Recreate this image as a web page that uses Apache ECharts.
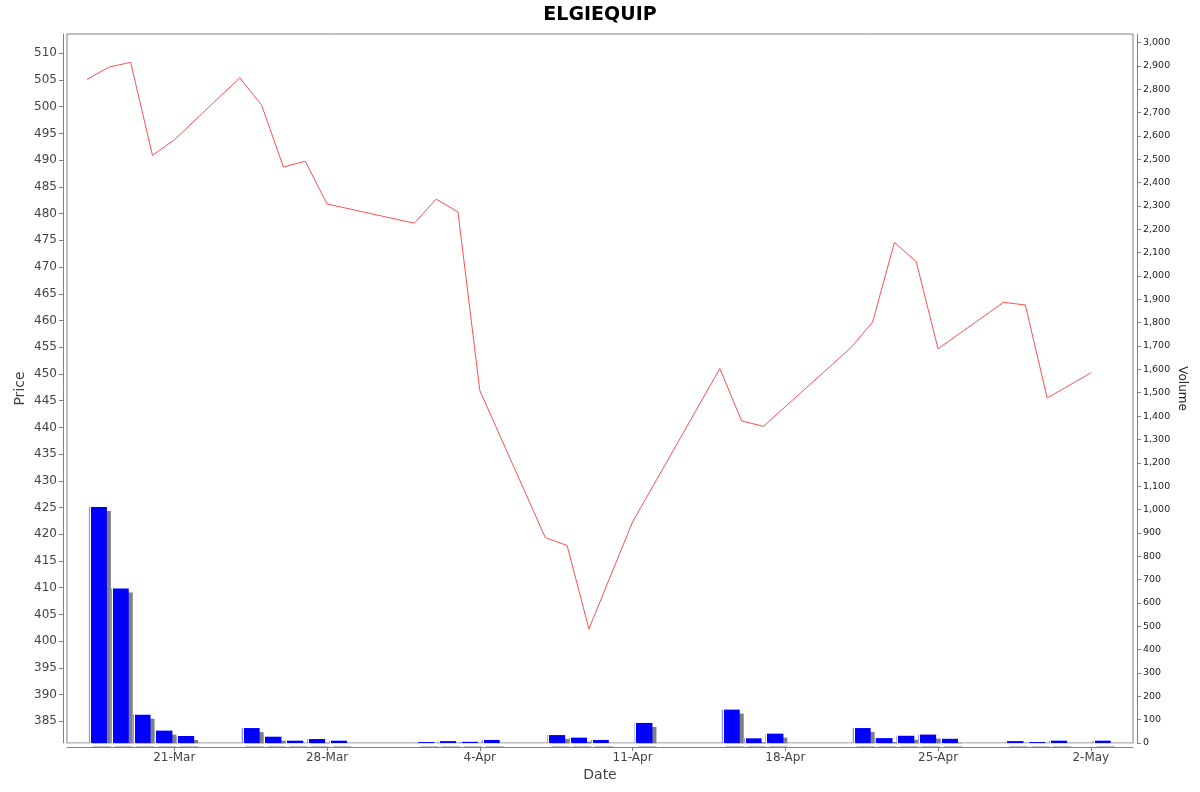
<!DOCTYPE html>
<html>
<head>
<meta charset="utf-8">
<script src="https://cdn.jsdelivr.net/npm/echarts@6/dist/echarts.min.js"></script>
<style>
html,body{margin:0;padding:0;background:#fff;}
#chart{width:1200px;height:792px;}
</style>
</head>
<body>
<div id="chart"></div>
<script>
const chartTitle = 'ELGIEQUIP';
const dates = ['2025-03-17','2025-03-18','2025-03-19','2025-03-20','2025-03-21',
  '2025-03-24','2025-03-25','2025-03-26','2025-03-27','2025-03-28',
  '2025-04-01','2025-04-02','2025-04-03','2025-04-04',
  '2025-04-07','2025-04-08','2025-04-09','2025-04-11',
  '2025-04-15','2025-04-16','2025-04-17',
  '2025-04-21','2025-04-22','2025-04-23','2025-04-24','2025-04-25',
  '2025-04-28','2025-04-29','2025-04-30','2025-05-02'];
const prices = [505.1,507.4,508.3,490.9,493.8,
  505.4,500.3,488.7,489.8,481.8,
  478.2,482.7,480.3,446.9,
  419.4,417.9,402.3,422.3,
  451.0,441.2,440.2,
  454.9,459.7,474.6,471.0,454.7,
  463.4,462.9,445.5,450.2];
const volumes = [1011,662,121,53,30,
  64,27,10,17,10,
  4,8,5,13,
  34,23,13,86,
  143,20,40,
  64,21,31,36,18,
  8,4,10,10];
const xTickDates = ['2025-03-21','2025-03-28','2025-04-04','2025-04-11','2025-04-18','2025-04-25','2025-05-02'];
const priceTicks = [385,390,395,400,405,410,415,420,425,430,435,440,445,450,455,460,465,470,475,480,485,490,495,500,505,510];
const volumeTicks = [0,100,200,300,400,500,600,700,800,900,1000,1100,1200,1300,1400,1500,1600,1700,1800,1900,2000,2100,2200,2300,2400,2500,2600,2700,2800,2900,3000];
const monthNames = ['Jan','Feb','Mar','Apr','May','Jun','Jul','Aug','Sep','Oct','Nov','Dec'];

function parseDate(s){
  const p = s.split('-').map(Number);
  return new Date(p[0], p[1]-1, p[2]).getTime();
}
const HOUR = 3600*1000;
const ts = dates.map(parseDate);
const xTicks = xTickDates.map(parseDate);
const xMin = parseDate('2025-03-16') + 2*HOUR;
const xMax = parseDate('2025-05-03') + 22.4*HOUR;
const barShift = 12*HOUR;

const font = 'DejaVu Sans, sans-serif';
const axisGray = '#808080';
const W = 1200, H = 792;
const G = {left: 67, right: 67, top: 34, bottom: 49};

const chart = echarts.init(document.getElementById('chart'), null, {renderer:'canvas'});
chart.setOption({
  animation: false,
  backgroundColor: '#ffffff',
  title: {
    text: chartTitle, left: 'center', top: 1,
    textStyle: {fontFamily: font, fontSize: 19, fontWeight: 'bold', color: '#000'}
  },
  grid: {
    left: G.left, right: G.right, top: G.top, bottom: G.bottom,
    show: true, borderColor: axisGray, borderWidth: 1, backgroundColor: '#fff'
  },
  graphic: [{
    type: 'rect', silent: true, z: 100,
    shape: {x: G.left + 0.5, y: H - G.bottom + 0.6, width: W - G.left - G.right - 1, height: 2.8},
    style: {fill: '#ffffff'}
  }],
  xAxis: [{
    type: 'value', min: xMin, max: xMax, offset: 4,
    axisLine: {show: true, onZero: false, lineStyle: {color: axisGray, width: 1}},
    axisTick: {show: true, length: 4, lineStyle: {color: axisGray}, customValues: xTicks},
    axisLabel: {
      fontFamily: font, fontSize: 12, color: '#444', margin: 5,
      customValues: xTicks,
      formatter: function(v){ const d = new Date(v); return d.getDate() + '-' + monthNames[d.getMonth()]; }
    },
    splitLine: {show: false},
    name: 'Date', nameLocation: 'middle', nameGap: 21, nameMoveOverlap: false,
    nameTextStyle: {fontFamily: font, fontSize: 14, color: '#444'}
  },{
    type: 'value', min: xMin - barShift, max: xMax - barShift, show: false
  }],
  yAxis: [{
    type: 'value', position: 'left', min: 380.95, max: 513.6, offset: 4,
    axisLine: {show: true, onZero: false, lineStyle: {color: axisGray, width: 1}},
    axisTick: {show: true, length: 4, lineStyle: {color: axisGray}, customValues: priceTicks},
    axisLabel: {fontFamily: font, fontSize: 12, color: '#444', margin: 6, customValues: priceTicks},
    splitLine: {show: false},
    name: 'Price', nameLocation: 'middle', nameGap: 36, nameRotate: 90, nameMoveOverlap: false,
    nameTextStyle: {fontFamily: font, fontSize: 14, color: '#444'}
  },{
    type: 'value', position: 'right', min: 0, max: 3036, offset: 4,
    axisLine: {show: true, onZero: false, lineStyle: {color: axisGray, width: 1}},
    axisTick: {show: true, length: 4, lineStyle: {color: axisGray}, customValues: volumeTicks},
    axisLabel: {fontFamily: font, fontSize: 9.5, color: '#222', margin: 6, customValues: volumeTicks,
      formatter: function(v){ return Number(v).toLocaleString('en-US'); }},
    splitLine: {show: false},
    name: 'Volume', nameLocation: 'middle', nameGap: 39, nameRotate: -90, nameMoveOverlap: false,
    nameTextStyle: {fontFamily: font, fontSize: 12, color: '#222'}
  }],
  series: [{
    type: 'bar', name: 'Volume', xAxisIndex: 1, yAxisIndex: 1,
    data: ts.map((t,i) => [t, volumes[i]]),
    barWidth: 18,
    itemStyle: {
      color: new echarts.graphic.LinearGradient(0,0,1,0,[
        {offset:0, color:'#8c8cff'},{offset:0.055, color:'#8c8cff'},
        {offset:0.056, color:'#ffffff'},{offset:0.11, color:'#ffffff'},
        {offset:0.111, color:'#0000ff'},{offset:1, color:'#0000ff'}
      ]),
      shadowColor: '#808080', shadowOffsetX: 4, shadowOffsetY: 4, shadowBlur: 0
    },
    z: 2
  },{
    type: 'line', name: 'Price', xAxisIndex: 0, yAxisIndex: 0,
    data: ts.map((t,i) => [t, prices[i]]),
    symbol: 'none', showSymbol: false,
    lineStyle: {color: '#ff5050', width: 1},
    z: 3
  }]
});
</script>
</body>
</html>
